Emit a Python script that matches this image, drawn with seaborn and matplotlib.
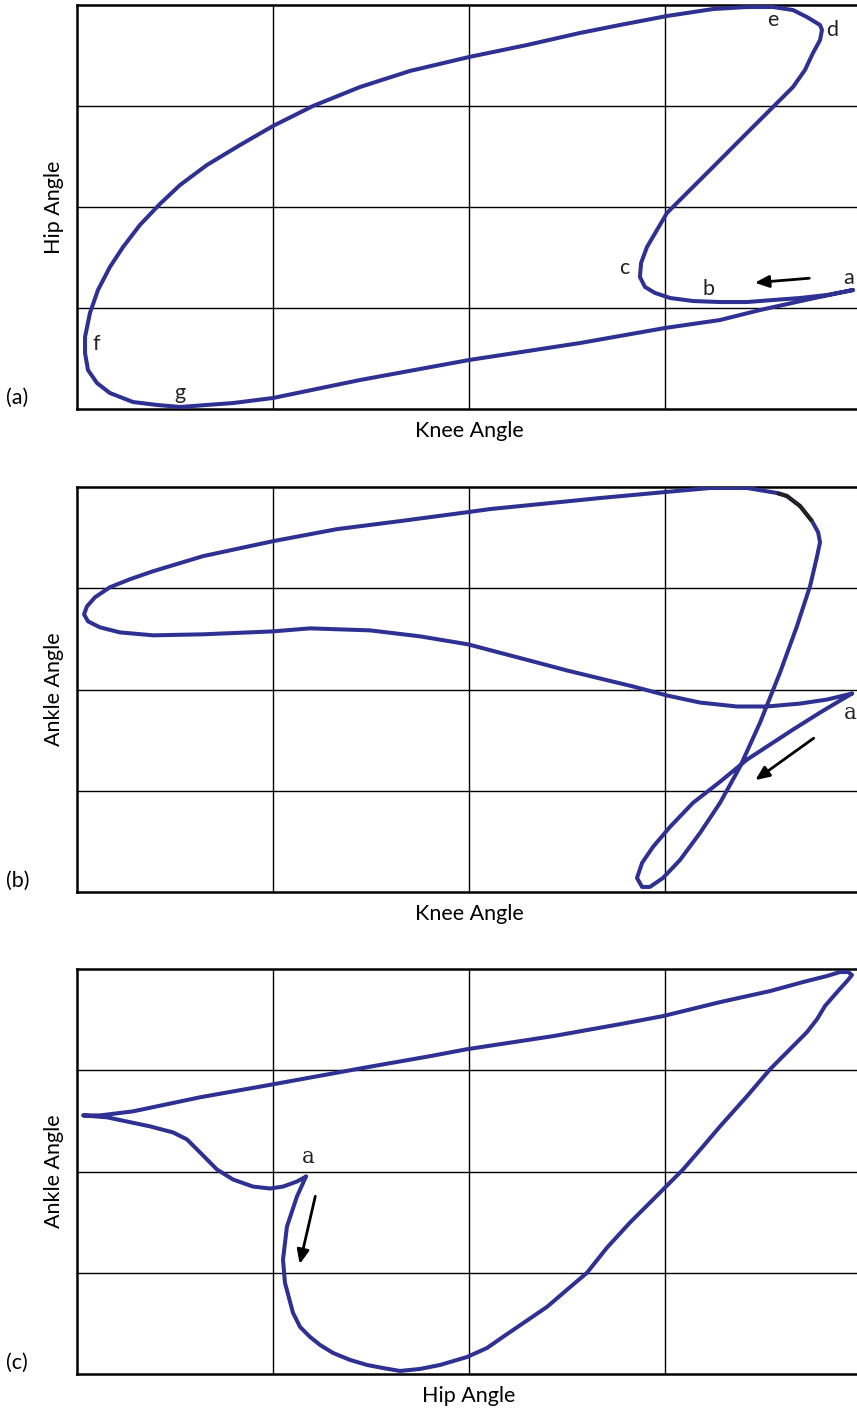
import numpy as np
import pandas as pd
import matplotlib
matplotlib.use("Agg")
import matplotlib.pyplot as plt
import seaborn as sns

# ---- data (grid units: each axis spans 0..4) ----
knee_a = [3.959, 3.827, 3.689, 3.551, 3.418, 3.281, 3.143, 3.026, 2.949, 2.898, 2.872, 2.878,
          2.908, 2.959, 3.010, 3.112, 3.245, 3.418, 3.551, 3.653, 3.714, 3.755, 3.791, 3.801,
          3.791, 3.724, 3.653, 3.551, 3.418, 3.245, 3.010, 2.770, 2.566, 2.296, 2.000, 1.699,
          1.444, 1.204, 1.000, 0.832, 0.663, 0.526, 0.423, 0.321, 0.235, 0.168, 0.107, 0.066,
          0.041, 0.041, 0.056, 0.102, 0.168, 0.286, 0.408, 0.526, 0.663, 0.796, 1.000, 1.444,
          2.000, 2.566, 3.000, 3.281, 3.485, 3.740, 3.959]
hip_a = [1.178, 1.129, 1.099, 1.079, 1.059, 1.059, 1.069, 1.099, 1.149, 1.208, 1.307, 1.446,
         1.604, 1.772, 1.941, 2.139, 2.396, 2.733, 2.990, 3.188, 3.356, 3.525, 3.653, 3.752,
         3.802, 3.881, 3.950, 3.980, 3.980, 3.960, 3.891, 3.802, 3.723, 3.604, 3.485, 3.347,
         3.188, 3.000, 2.802, 2.614, 2.416, 2.218, 2.030, 1.822, 1.604, 1.406, 1.178, 0.950,
         0.713, 0.554, 0.386, 0.257, 0.158, 0.069, 0.040, 0.020, 0.040, 0.059, 0.109, 0.287,
         0.485, 0.653, 0.802, 0.881, 0.980, 1.089, 1.178]

knee_b = [3.954, 3.791, 3.653, 3.520, 3.418, 3.281, 3.143, 3.026, 2.939, 2.883, 2.857, 2.883,
          2.923, 2.990, 3.077, 3.179, 3.281, 3.383, 3.485, 3.587, 3.673, 3.740, 3.776, 3.791,
          3.781, 3.750, 3.689, 3.622, 3.571, 3.418, 3.230, 3.000, 2.668, 2.464, 2.107, 1.995,
          1.648, 1.327, 1.000, 0.643, 0.388, 0.270, 0.168, 0.092, 0.051, 0.036, 0.056, 0.117,
          0.219, 0.388, 0.643, 1.000, 1.189, 1.495, 1.750, 1.995, 2.327, 2.500, 2.668, 2.837,
          3.010, 3.179, 3.367, 3.520, 3.689, 3.827, 3.954]
ankle_b = [1.960, 1.772, 1.604, 1.436, 1.307, 1.089, 0.881, 0.644, 0.446, 0.287, 0.139, 0.050,
           0.050, 0.139, 0.317, 0.584, 0.881, 1.238, 1.673, 2.168, 2.624, 3.020, 3.317, 3.455,
           3.554, 3.663, 3.812, 3.911, 3.941, 3.990, 3.990, 3.950, 3.891, 3.851, 3.782, 3.752,
           3.663, 3.584, 3.465, 3.317, 3.168, 3.089, 3.010, 2.911, 2.822, 2.743, 2.673, 2.614,
           2.564, 2.535, 2.545, 2.574, 2.604, 2.584, 2.525, 2.446, 2.277, 2.188, 2.109, 2.030,
           1.941, 1.871, 1.832, 1.832, 1.861, 1.901, 1.960]
black_seg_b = (25, 28)  # index range of the short dark segment near the top-right corner

hip_c = [1.168, 1.122, 1.071, 1.051, 1.061, 1.102, 1.138, 1.189, 1.240, 1.306, 1.393, 1.480,
         1.561, 1.648, 1.750, 1.852, 1.990, 2.092, 2.173, 2.398, 2.500, 2.602, 2.704, 2.821,
         2.939, 3.092, 3.194, 3.281, 3.418, 3.536, 3.724, 3.776, 3.816, 3.878, 3.929, 3.954,
         3.934, 3.893, 3.827, 3.704, 3.536, 3.281, 2.990, 2.770, 2.429, 1.990, 1.801, 1.480,
         1.000, 0.628, 0.286, 0.117, 0.031, 0.153, 0.372, 0.490, 0.561, 0.628, 0.714, 0.796,
         0.898, 0.985, 1.051, 1.122, 1.168]
ankle_c = [1.950, 1.752, 1.455, 1.129, 0.901, 0.604, 0.465, 0.366, 0.287, 0.208, 0.139, 0.089,
           0.059, 0.030, 0.050, 0.089, 0.168, 0.257, 0.366, 0.663, 0.832, 1.000, 1.248, 1.495,
           1.723, 2.020, 2.248, 2.446, 2.743, 3.010, 3.376, 3.505, 3.634, 3.772, 3.881, 3.941,
           3.970, 3.970, 3.931, 3.871, 3.782, 3.673, 3.535, 3.455, 3.337, 3.208, 3.139, 3.030,
           2.861, 2.733, 2.594, 2.554, 2.554, 2.535, 2.446, 2.386, 2.317, 2.188, 2.020, 1.921,
           1.851, 1.832, 1.851, 1.901, 1.950]

labels_a = ["a", "b", "c", "d", "e", "f", "g"]
labels_a_x = [3.939, 3.224, 2.791, 3.852, 3.551, 0.097, 0.526]
labels_a_y = [1.297, 1.188, 1.396, 3.752, 3.851, 0.644, 0.158]

xlabels = ["Knee Angle", "Knee Angle", "Hip Angle"]
ylabels = ["Hip Angle", "Ankle Angle", "Ankle Angle"]
panel_tags = ["(a)", "(b)", "(c)"]

BLUE = "#2e3192"
FS = 15.5
sns.set_theme(style="white")
plt.rcParams["font.family"] = ["Lato", "DejaVu Sans"]

W, H = 857, 1413
fig = plt.figure(figsize=(W / 100, H / 100), dpi=100)

tops = [5, 487, 969]
bottoms = [409, 892, 1374]
left_px, right_px = 77, 861

axes = []
for t, b in zip(tops, bottoms):
    ax = fig.add_axes([left_px / W, 1 - b / H, (right_px - left_px) / W, (b - t) / H])
    axes.append(ax)

series = [(knee_a, hip_a), (knee_b, ankle_b), (hip_c, ankle_c)]
for i, (ax, (xs, ys)) in enumerate(zip(axes, series)):
    df = pd.DataFrame({"x": xs, "y": ys})
    sns.lineplot(data=df, x="x", y="y", sort=False, estimator=None, color=BLUE,
                 lw=2.9, ax=ax, solid_capstyle="round", solid_joinstyle="round", zorder=3)
    ax.set_xlim(0, 4)
    ax.set_ylim(0, 4)
    ax.set_xticks([1, 2, 3])
    ax.set_yticks([1, 2, 3])
    ax.set_xticklabels([])
    ax.set_yticklabels([])
    ax.tick_params(length=0)
    ax.grid(True, color="black", lw=1.0)
    for s in ax.spines.values():
        s.set_color("black")
        s.set_linewidth(1.8)
    ax.set_xlabel(xlabels[i], fontsize=FS, color="black", labelpad=5)
    ax.set_ylabel(ylabels[i], fontsize=FS, color="black", labelpad=6)
    fig.text(6 / W, 1 - (bottoms[i] - 11) / H, panel_tags[i], fontsize=FS,
             va="center", ha="left", color="black")

# dark segment in panel b
s0, s1 = black_seg_b
axes[1].plot(knee_b[s0:s1 + 1], ankle_b[s0:s1 + 1], color="#222222", lw=2.9,
             solid_capstyle="butt", zorder=4)

# letters in panel a
for lab, lx, ly in zip(labels_a, labels_a_x, labels_a_y):
    axes[0].text(lx, ly, lab, fontsize=FS, ha="center", va="center", color="#222222")

axes[1].text(3.944, 1.772, "a", fontsize=FS, ha="center", va="center",
             family="DejaVu Serif", color="#222222")
axes[2].text(1.179, 2.139, "a", fontsize=FS, ha="center", va="center",
             family="DejaVu Serif", color="#222222")

arrow_kw = dict(arrowstyle="-|>,head_length=0.7,head_width=0.3", color="black", lw=2.0)
axes[0].annotate("", xy=(3.444, 1.248), xytext=(3.750, 1.297), arrowprops=arrow_kw)
axes[1].annotate("", xy=(3.449, 1.089), xytext=(3.770, 1.535), arrowprops=arrow_kw)
axes[2].annotate("", xy=(1.133, 1.059), xytext=(1.219, 1.782), arrowprops=arrow_kw)

fig.savefig("out.png", dpi=100, facecolor="white")
